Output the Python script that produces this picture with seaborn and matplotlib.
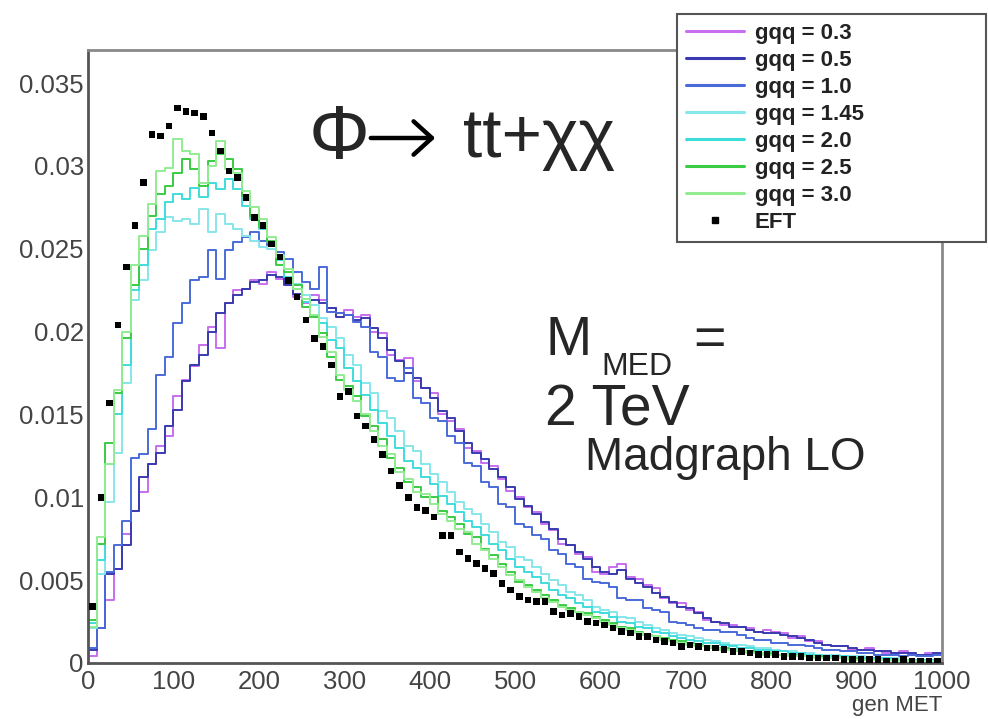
import numpy as np
import pandas as pd
import matplotlib
matplotlib.use("Agg")
import matplotlib.pyplot as plt
from matplotlib.lines import Line2D
from matplotlib.patches import FancyArrowPatch
from matplotlib.ticker import MultipleLocator
import seaborn as sns

# ---------------- data (bin width 10 GeV, 0..1000) ----------------
bin_edges = list(range(0, 1010, 10))

labels = ["gqq = 0.3", "gqq = 0.5", "gqq = 1.0", "gqq = 1.45", "gqq = 2.0", "gqq = 2.5", "gqq = 3.0"]

g03 = [0.0004, 0.0021, 0.0038, 0.0057, 0.0078, 0.0092, 0.0103, 0.0120, 0.0131, 0.0137,
       0.0161, 0.0171, 0.0179, 0.0192, 0.0203, 0.0190, 0.0217, 0.0225, 0.0226, 0.0231,
       0.0229, 0.0236, 0.0232, 0.0229, 0.0221, 0.0217, 0.0222, 0.0219, 0.0214, 0.0211,
       0.0213, 0.0209, 0.0210, 0.0200, 0.0199, 0.0186, 0.0183, 0.0184, 0.0170, 0.0166,
       0.0163, 0.0150, 0.0146, 0.0141, 0.0130, 0.0128, 0.0121, 0.0119, 0.0111, 0.0104,
       0.0100, 0.0094, 0.0091, 0.0084, 0.0080, 0.0072, 0.0071, 0.0066, 0.0064, 0.0055,
       0.0054, 0.0058, 0.0060, 0.0052, 0.0051, 0.0047, 0.0045, 0.0039, 0.0036, 0.0036,
       0.0032, 0.0031, 0.0026, 0.0025, 0.0023, 0.0023, 0.0022, 0.0021, 0.0019, 0.0020,
       0.0019, 0.0018, 0.0015, 0.0016, 0.0013, 0.0013, 0.0011, 0.0010, 0.0010, 0.0008,
       0.0008, 0.0009, 0.0007, 0.0006, 0.0006, 0.0007, 0.0005, 0.0005, 0.0006, 0.0005]

g05 = [0.0008, 0.0021, 0.0054, 0.0057, 0.0071, 0.0092, 0.0112, 0.0120, 0.0127, 0.0143,
       0.0153, 0.0170, 0.0180, 0.0186, 0.0200, 0.0211, 0.0217, 0.0222, 0.0226, 0.0230,
       0.0231, 0.0234, 0.0233, 0.0228, 0.0223, 0.0218, 0.0219, 0.0217, 0.0214, 0.0209,
       0.0210, 0.0207, 0.0208, 0.0202, 0.0196, 0.0189, 0.0182, 0.0175, 0.0172, 0.0166,
       0.0160, 0.0152, 0.0148, 0.0140, 0.0133, 0.0127, 0.0123, 0.0117, 0.0112, 0.0106,
       0.0099, 0.0095, 0.0090, 0.0085, 0.0081, 0.0075, 0.0071, 0.0067, 0.0063, 0.0058,
       0.0055, 0.0054, 0.0056, 0.0051, 0.0048, 0.0046, 0.0042, 0.0040, 0.0037, 0.0034,
       0.0033, 0.0030, 0.0027, 0.0025, 0.0024, 0.0022, 0.0022, 0.0020, 0.0019, 0.0018,
       0.0018, 0.0017, 0.0016, 0.0015, 0.0014, 0.0012, 0.0011, 0.0010, 0.0010, 0.0009,
       0.0008, 0.0008, 0.0007, 0.0007, 0.0006, 0.0006, 0.0006, 0.0005, 0.0005, 0.0006]

g10 = [0.0009, 0.0021, 0.0055, 0.0071, 0.0086, 0.0124, 0.0126, 0.0141, 0.0174, 0.0185,
       0.0205, 0.0217, 0.0231, 0.0233, 0.0249, 0.0232, 0.0249, 0.0254, 0.0257, 0.0260,
       0.0255, 0.0252, 0.0248, 0.0244, 0.0236, 0.0230, 0.0226, 0.0239, 0.0212, 0.0211,
       0.0210, 0.0206, 0.0203, 0.0188, 0.0185, 0.0172, 0.0170, 0.0178, 0.0160, 0.0157,
       0.0148, 0.0146, 0.0137, 0.0133, 0.0121, 0.0119, 0.0109, 0.0106, 0.0096, 0.0094,
       0.0084, 0.0082, 0.0077, 0.0075, 0.0068, 0.0066, 0.0060, 0.0058, 0.0051, 0.0049,
       0.0048, 0.0046, 0.0039, 0.0038, 0.0038, 0.0033, 0.0032, 0.0031, 0.0025, 0.0024,
       0.0023, 0.0021, 0.0020, 0.0020, 0.0019, 0.0019, 0.0017, 0.0015, 0.0014, 0.0014,
       0.0012, 0.0012, 0.0011, 0.0011, 0.0010, 0.0009, 0.0008, 0.0008, 0.0007, 0.0007,
       0.0006, 0.0006, 0.0005, 0.0005, 0.0005, 0.0004, 0.0005, 0.0004, 0.0004, 0.0005]

g145 = [0.0021, 0.0054, 0.0097, 0.0127, 0.0169, 0.0219, 0.0231, 0.0249, 0.0260, 0.0269,
        0.0267, 0.0268, 0.0265, 0.0274, 0.0260, 0.0271, 0.0265, 0.0262, 0.0258, 0.0255,
        0.0251, 0.0250, 0.0246, 0.0236, 0.0229, 0.0222, 0.0216, 0.0208, 0.0203, 0.0196,
        0.0186, 0.0180, 0.0169, 0.0163, 0.0152, 0.0148, 0.0140, 0.0131, 0.0128, 0.0120,
        0.0114, 0.0109, 0.0103, 0.0097, 0.0093, 0.0090, 0.0084, 0.0079, 0.0073, 0.0070,
        0.0064, 0.0062, 0.0058, 0.0054, 0.0050, 0.0047, 0.0043, 0.0041, 0.0038, 0.0034,
        0.0032, 0.0031, 0.0028, 0.0027, 0.0025, 0.0023, 0.0021, 0.0020, 0.0018, 0.0017,
        0.0016, 0.0015, 0.0014, 0.0013, 0.0012, 0.0011, 0.0011, 0.0010, 0.0009, 0.0009,
        0.0008, 0.0007, 0.0007, 0.0006, 0.0006, 0.0005, 0.0005, 0.0005, 0.0004, 0.0004,
        0.0004, 0.0003, 0.0003, 0.0003, 0.0003, 0.0002, 0.0002, 0.0002, 0.0002, 0.0002]

g20 = [0.0024, 0.0062, 0.0120, 0.0150, 0.0180, 0.0225, 0.0240, 0.0262, 0.0268, 0.0278,
       0.0283, 0.0280, 0.0287, 0.0281, 0.0290, 0.0286, 0.0292, 0.0286, 0.0276, 0.0268,
       0.0262, 0.0254, 0.0243, 0.0233, 0.0226, 0.0218, 0.0210, 0.0205, 0.0195, 0.0190,
       0.0178, 0.0170, 0.0162, 0.0153, 0.0145, 0.0137, 0.0130, 0.0122, 0.0118, 0.0112,
       0.0108, 0.0101, 0.0096, 0.0091, 0.0086, 0.0082, 0.0077, 0.0072, 0.0068, 0.0063,
       0.0058, 0.0055, 0.0052, 0.0048, 0.0044, 0.0041, 0.0039, 0.0036, 0.0034, 0.0031,
       0.0030, 0.0028, 0.0025, 0.0024, 0.0022, 0.0021, 0.0019, 0.0018, 0.0016, 0.0015,
       0.0014, 0.0013, 0.0012, 0.0012, 0.0011, 0.0010, 0.0009, 0.0009, 0.0008, 0.0008,
       0.0007, 0.0007, 0.0006, 0.0006, 0.0005, 0.0005, 0.0004, 0.0004, 0.0004, 0.0003,
       0.0003, 0.0003, 0.0003, 0.0003, 0.0002, 0.0002, 0.0002, 0.0002, 0.0002, 0.0002]

g25 = [0.0026, 0.0072, 0.0133, 0.0163, 0.0196, 0.0228, 0.0250, 0.0270, 0.0283, 0.0288,
       0.0296, 0.0304, 0.0298, 0.0288, 0.0303, 0.0307, 0.0304, 0.0298, 0.0282, 0.0270,
       0.0263, 0.0255, 0.0240, 0.0236, 0.0228, 0.0215, 0.0209, 0.0199, 0.0185, 0.0171,
       0.0167, 0.0161, 0.0149, 0.0143, 0.0135, 0.0124, 0.0118, 0.0109, 0.0106, 0.0100,
       0.0100, 0.0092, 0.0088, 0.0084, 0.0078, 0.0076, 0.0069, 0.0065, 0.0060, 0.0055,
       0.0049, 0.0047, 0.0044, 0.0041, 0.0038, 0.0035, 0.0033, 0.0031, 0.0030, 0.0028,
       0.0026, 0.0024, 0.0022, 0.0021, 0.0019, 0.0017, 0.0016, 0.0015, 0.0014, 0.0013,
       0.0012, 0.0011, 0.0010, 0.0009, 0.0009, 0.0008, 0.0007, 0.0007, 0.0006, 0.0006,
       0.0005, 0.0005, 0.0005, 0.0004, 0.0004, 0.0004, 0.0003, 0.0003, 0.0003, 0.0003,
       0.0002, 0.0002, 0.0002, 0.0002, 0.0002, 0.0002, 0.0001, 0.0001, 0.0001, 0.0001]

g30 = [0.0022, 0.0076, 0.0120, 0.0165, 0.0200, 0.0240, 0.0258, 0.0277, 0.0297, 0.0299,
       0.0316, 0.0309, 0.0307, 0.0290, 0.0300, 0.0315, 0.0298, 0.0296, 0.0285, 0.0275,
       0.0268, 0.0257, 0.0245, 0.0238, 0.0226, 0.0220, 0.0210, 0.0197, 0.0188, 0.0174,
       0.0165, 0.0158, 0.0150, 0.0140, 0.0131, 0.0126, 0.0115, 0.0111, 0.0103, 0.0102,
       0.0096, 0.0090, 0.0086, 0.0081, 0.0079, 0.0072, 0.0068, 0.0063, 0.0058, 0.0053,
       0.0050, 0.0046, 0.0043, 0.0039, 0.0037, 0.0034, 0.0032, 0.0031, 0.0029, 0.0027,
       0.0025, 0.0023, 0.0021, 0.0020, 0.0018, 0.0017, 0.0016, 0.0014, 0.0013, 0.0012,
       0.0011, 0.0010, 0.0010, 0.0009, 0.0008, 0.0008, 0.0007, 0.0006, 0.0006, 0.0005,
       0.0005, 0.0005, 0.0004, 0.0004, 0.0004, 0.0003, 0.0003, 0.0003, 0.0003, 0.0002,
       0.0002, 0.0002, 0.0002, 0.0002, 0.0001, 0.0002, 0.0001, 0.0001, 0.0001, 0.0001]

eft = [0.0034, 0.0100, 0.0157, 0.0204, 0.0239, 0.0264, 0.0290, 0.0319, 0.0318, 0.0324,
       0.0335, 0.0333, 0.0332, 0.0330, 0.0320, 0.0309, 0.0297, 0.0293, 0.0281, 0.0269,
       0.0264, 0.0253, 0.0245, 0.0231, 0.0221, 0.0207, 0.0196, 0.0191, 0.0180, 0.0161,
       0.0164, 0.0149, 0.0143, 0.0135, 0.0126, 0.0116, 0.0107, 0.0100, 0.0094, 0.0092,
       0.0088, 0.0077, 0.0077, 0.0067, 0.0063, 0.0060, 0.0057, 0.0054, 0.0048, 0.0044,
       0.0040, 0.0038, 0.0037, 0.0037, 0.0031, 0.0029, 0.0030, 0.0028, 0.0025, 0.0024,
       0.0023, 0.0021, 0.0019, 0.0018, 0.0016, 0.0016, 0.0014, 0.0013, 0.0012, 0.0010,
       0.0011, 0.0010, 0.0009, 0.0009, 0.0008, 0.0007, 0.0007, 0.0006, 0.0005, 0.0005,
       0.0005, 0.0004, 0.0004, 0.0004, 0.0003, 0.0003, 0.0003, 0.0003, 0.0002, 0.0002,
       0.0002, 0.0002, 0.0002, 0.0001, 0.0001, 0.0002, 0.0001, 0.0001, 0.0001, 0.0001]

colors = ["#c86ff0", "#3a3ab0", "#4a6ad8", "#86e6ea", "#3fdcdc", "#3acc44", "#92ec92"]
series = [g03, g05, g10, g145, g20, g25, g30]

# ---------------- figure ----------------
sns.set_style("white")
plt.rcParams["font.family"] = ["Liberation Sans", "DejaVu Sans"]

W, H = 988, 719
fig = plt.figure(figsize=(W / 100, H / 100), dpi=100)
ax = fig.add_axes([88 / W, 1 - 663 / H, (942 - 88) / W, (663 - 50) / H])

centers = [0.5 * (a + b) for a, b in zip(bin_edges[:-1], bin_edges[1:])]

for lab, vals, col in zip(labels, series, colors):
    df = pd.DataFrame({"met": centers, "w": vals})
    sns.histplot(data=df, x="met", weights="w", bins=bin_edges, element="step",
                 fill=False, color=col, linewidth=1.4, ax=ax)

sns.scatterplot(x=centers, y=eft, marker="s", color="black", s=22,
                edgecolor="none", ax=ax, zorder=5)

ax.set_xlim(0, 1000)
ax.set_ylim(0, 0.0370)
ax.set_ylabel("")
ax.set_xlabel("gen MET", loc="right", fontsize=16, color="#444444", labelpad=1)

ax.xaxis.set_major_locator(MultipleLocator(100))
ax.xaxis.set_minor_locator(MultipleLocator(20))
ax.yaxis.set_minor_locator(MultipleLocator(0.001))
ax.set_yticks([0, 0.005, 0.01, 0.015, 0.02, 0.025, 0.03, 0.035])
ax.set_yticklabels(["0", "0.005", "0.01", "0.015", "0.02", "0.025", "0.03", "0.035"])

ax.tick_params(axis="x", which="major", direction="in", length=12, width=1.3,
               color="#555555", labelsize=18.5, labelcolor="#444444", pad=5)
ax.tick_params(axis="x", which="minor", direction="in", length=6, width=1.3, color="#555555")
ax.tick_params(axis="y", which="major", direction="in", length=18, width=1.3,
               color="#555555", labelsize=18.5, labelcolor="#444444", pad=3)
ax.tick_params(axis="y", which="minor", direction="in", length=9, width=1.3, color="#555555")

for side in ["left", "bottom"]:
    ax.spines[side].set_color("#555555")
    ax.spines[side].set_linewidth(2)
for side in ["top", "right"]:
    ax.spines[side].set_visible(True)
    ax.spines[side].set_color("#8a8a8a")
    ax.spines[side].set_linewidth(2)

# ---------------- annotations ----------------
def ftext(x, y, s, **kw):
    fig.text(x / W, 1 - y / H, s, va="baseline", ha="left",
             family=["Liberation Sans", "DejaVu Sans"], **kw)

ftext(309, 159, "Φ", fontsize=55)
arrow = FancyArrowPatch((368 / W, 1 - 138 / H), (438 / W, 1 - 138 / H),
                        transform=fig.transFigure, arrowstyle="->,head_length=0.55,head_width=0.5",
                        mutation_scale=24, lw=3.2, color="black")
fig.add_artist(arrow)
ftext(463, 157, "tt+χχ", fontsize=50)
ftext(545, 355, "M", fontsize=40)
ftext(601, 375, "MED", fontsize=23)
ftext(693, 355, "=", fontsize=40)
ftext(545, 425, "2 TeV", fontsize=41)
ftext(585, 470, "Madgraph LO", fontsize=33)

# ---------------- legend ----------------
handles = [Line2D([], [], color=c, lw=2.2) for c in colors]
handles.append(Line2D([], [], color="black", marker="s", ms=4.5, ls="none"))
leg = fig.legend(handles, labels + ["EFT"], loc="upper left",
                 bbox_to_anchor=(677 / W, 1 - 238 / H, 309 / W, 224 / H),
                 mode="expand", borderaxespad=0, frameon=True, fancybox=False,
                 framealpha=1.0, facecolor="white",
                 prop={"family": ["Liberation Sans", "DejaVu Sans"], "weight": "bold", "size": 16},
                 handlelength=2.6, handletextpad=0.5, labelspacing=0.27,
                 borderpad=0.4, labelcolor="#222222")
leg.get_frame().set_edgecolor("#555555")
leg.get_frame().set_linewidth(1.5)

fig.savefig("out.png", dpi=100, facecolor="white")
